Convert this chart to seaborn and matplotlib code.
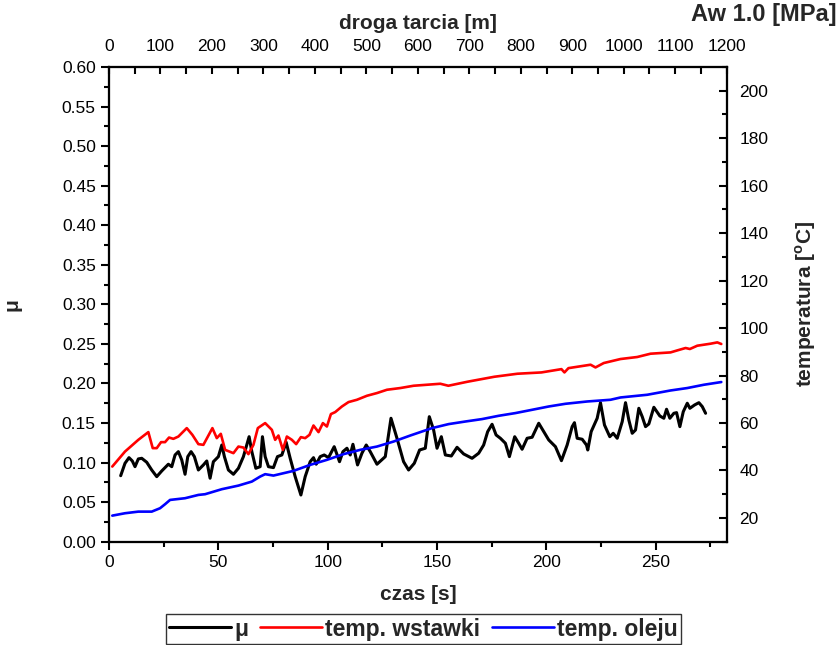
import numpy as np
import pandas as pd
import seaborn as sns
import matplotlib
matplotlib.use("Agg")
import matplotlib.pyplot as plt
from matplotlib.ticker import MultipleLocator

# ---- data ----
mu_t = [5.35, 7.32, 9.15, 10.66, 11.90, 13.41, 14.97, 17.25, 19.54, 21.83, 24.12, 27.14, 28.70, 30.21,
        31.72, 33.27, 34.78, 36.02, 37.53, 39.04, 40.87, 43.16, 44.71, 46.22, 47.73, 50.02, 51.58, 52.77,
        54.60, 56.89, 59.18, 61.46, 64.07, 65.31, 67.14, 69.11, 70.16, 71.40, 72.91, 75.19, 77.03, 79.04,
        81.01, 82.84, 85.13, 87.74, 89.70, 91.99, 93.50, 94.74, 96.57, 98.40, 100.37, 102.97, 105.40,
        106.96, 108.79, 110.30, 111.53, 113.64, 115.65, 117.62, 119.45, 122.52, 126.32, 128.93, 131.67,
        134.69, 136.98, 139.59, 142.01, 144.62, 146.45, 148.42, 149.98, 151.95, 153.78, 156.52, 159.13,
        162.15, 166.00, 169.02, 171.30, 173.14, 175.15, 176.98, 178.95, 181.24, 183.07, 185.49, 187.32,
        188.88, 191.17, 193.46, 196.48, 198.76, 201.05, 204.12, 206.86, 209.47, 211.76, 212.81, 214.05,
        216.34, 218.31, 218.90, 220.46, 223.20, 224.71, 226.54, 228.97, 230.53, 232.36, 234.65, 236.16,
        237.67, 239.22, 240.73, 242.24, 243.80, 245.31, 246.82, 249.11, 251.85, 253.68, 254.92, 256.43,
        258.26, 259.50, 261.01, 262.56, 264.39, 265.58, 267.73, 269.70, 271.26, 272.77]
mu_v = [0.0834, 0.0991, 0.1062, 0.1020, 0.0948, 0.1046, 0.1054, 0.1004, 0.0906, 0.0822, 0.0894, 0.0979,
        0.0948, 0.1096, 0.1138, 0.1033, 0.0852, 0.1075, 0.1138, 0.1075, 0.0906, 0.0970, 0.1020, 0.0802,
        0.1011, 0.1075, 0.1222, 0.1075, 0.0906, 0.0852, 0.0928, 0.1075, 0.1327, 0.1138, 0.0928, 0.0948,
        0.1327, 0.1075, 0.0948, 0.0936, 0.1075, 0.1096, 0.1257, 0.1054, 0.0822, 0.0590, 0.0822, 0.1011,
        0.1062, 0.0979, 0.1075, 0.1096, 0.1062, 0.1201, 0.1011, 0.1138, 0.1181, 0.1096, 0.1231, 0.0970,
        0.1118, 0.1222, 0.1138, 0.0979, 0.1075, 0.1560, 0.1307, 0.1011, 0.0906, 0.0991, 0.1159, 0.1181,
        0.1580, 0.1412, 0.1181, 0.1327, 0.1096, 0.1083, 0.1193, 0.1109, 0.1054, 0.1118, 0.1222, 0.1391,
        0.1484, 0.1349, 0.1307, 0.1244, 0.1075, 0.1327, 0.1244, 0.1168, 0.1307, 0.1320, 0.1497, 0.1391,
        0.1286, 0.1201, 0.1024, 0.1222, 0.1454, 0.1504, 0.1307, 0.1295, 0.1222, 0.1159, 0.1391, 0.1560,
        0.1757, 0.1475, 0.1327, 0.1370, 0.1307, 0.1517, 0.1757, 0.1539, 0.1370, 0.1412, 0.1686, 0.1580,
        0.1454, 0.1488, 0.1699, 0.1589, 0.1560, 0.1674, 0.1560, 0.1623, 0.1631, 0.1454, 0.1643, 0.1750,
        0.1686, 0.1728, 0.1757, 0.1707, 0.1623]

ins_t = [1.51, 7.32, 13.41, 17.99, 20.00, 21.83, 23.80, 25.63, 27.46, 29.43, 31.72, 35.56, 38.12, 40.87,
         43.16, 47.28, 49.29, 51.12, 53.09, 56.89, 59.18, 61.46, 63.75, 66.04, 68.05, 71.40, 74.46, 75.97,
         77.48, 79.50, 81.33, 83.62, 85.58, 87.74, 89.70, 91.67, 93.50, 95.79, 97.80, 99.63, 101.46,
         103.43, 106.50, 109.52, 113.36, 117.94, 122.52, 127.09, 133.18, 139.27, 151.49, 155.15, 163.84,
         176.20, 186.73, 197.71, 206.86, 208.24, 210.07, 220.18, 222.43, 226.22, 233.87, 241.51, 247.60,
         256.75, 259.82, 263.62, 265.58, 268.97, 275.06, 278.12, 279.95]
ins_v = [41.65, 47.97, 52.91, 56.16, 49.41, 49.41, 51.94, 51.94, 53.88, 53.33, 54.30, 57.85, 55.02, 51.10,
         50.80, 57.85, 53.63, 55.44, 48.69, 47.30, 50.08, 49.66, 46.88, 50.80, 57.85, 59.96, 57.13, 52.91,
         54.73, 48.69, 54.30, 52.91, 51.10, 54.05, 53.63, 55.02, 58.95, 56.16, 59.96, 58.52, 63.76, 64.60,
         66.96, 68.82, 69.79, 71.48, 72.62, 74.01, 74.73, 75.70, 76.54, 75.70, 77.38, 79.49, 80.76, 81.31,
         82.70, 81.31, 83.12, 84.56, 83.42, 85.27, 86.96, 87.81, 89.20, 89.75, 90.59, 91.60, 91.18, 92.57,
         93.42, 93.97, 93.29]

oil_t = [1.51, 7.32, 13.41, 19.54, 23.34, 25.63, 27.92, 34.78, 40.87, 43.94, 51.58, 59.18, 65.31, 69.11,
         71.40, 75.19, 84.35, 91.99, 99.63, 107.23, 114.87, 122.52, 130.11, 137.76, 147.69, 155.29,
         162.93, 170.57, 178.17, 185.81, 193.46, 201.05, 208.70, 218.63, 229.29, 233.87, 246.09, 256.75,
         264.39, 271.99, 279.95]
oil_v = [20.97, 21.98, 22.66, 22.66, 24.09, 25.78, 27.59, 28.31, 29.70, 30.00, 32.11, 33.63, 35.32, 37.43,
         38.44, 37.85, 39.83, 42.36, 44.47, 46.88, 48.69, 50.08, 52.19, 54.73, 57.85, 59.54, 60.63, 61.65,
         63.04, 64.18, 65.57, 66.96, 68.10, 69.07, 69.79, 70.76, 71.90, 73.71, 74.73, 76.12, 77.26]

labels = ["\u03bc", "temp. wstawki", "temp. oleju"]
top_ticks = [0, 100, 200, 300, 400, 500, 600, 700, 800, 900, 1000, 1100, 1200]

sns.set_theme(style="ticks")
plt.rcParams["font.family"] = ["Liberation Sans", "DejaVu Sans"]
plt.rcParams["mathtext.fontset"] = "custom"
plt.rcParams["mathtext.rm"] = "Liberation Sans"
plt.rcParams["mathtext.bf"] = "Liberation Sans:bold"

fig = plt.figure(figsize=(8.39, 6.45), dpi=100)
ax = fig.add_axes([0.1299, 0.1602, 0.8661 - 0.1299, 0.8961 - 0.1602])
ax2 = ax.twinx()
ax3 = ax.twiny()

df_mu = pd.DataFrame({"t": mu_t, "v": mu_v})
df_ins = pd.DataFrame({"t": ins_t, "v": ins_v})
df_oil = pd.DataFrame({"t": oil_t, "v": oil_v})

sns.lineplot(data=df_mu, x="t", y="v", ax=ax, color="black", lw=2.2, label=labels[0], legend=False)
sns.lineplot(data=df_ins, x="t", y="v", ax=ax2, color="#ff0000", lw=1.9, label=labels[1], legend=False)
sns.lineplot(data=df_oil, x="t", y="v", ax=ax2, color="#0000ff", lw=1.9, label=labels[2], legend=False)

ax.set_xlim(0, 282.4)
ax.set_ylim(0, 0.6)
ax2.set_ylim(10, 210)
ax3.set_xlim(0, 1200)

for a in (ax, ax2, ax3):
    for s in a.spines.values():
        s.set_linewidth(1.5)
        s.set_color("black")

fs = 12.5
ax.xaxis.set_major_locator(MultipleLocator(50))
ax.xaxis.set_minor_locator(MultipleLocator(25))
ax.yaxis.set_major_locator(MultipleLocator(0.05))
ax.yaxis.set_minor_locator(MultipleLocator(0.025))
ax.yaxis.set_major_formatter(matplotlib.ticker.FormatStrFormatter("%.2f"))
ax.tick_params(axis="both", which="major", direction="out", length=6, width=1.5, labelsize=fs, color="black", labelcolor="black")
ax.tick_params(axis="both", which="minor", direction="out", length=3.5, width=1.5, color="black")

ax2.yaxis.set_minor_locator(MultipleLocator(10))
ax2.set_yticks([20, 40, 60, 80, 100, 120, 140, 160, 180, 200])
ax2.tick_params(axis="y", which="major", direction="in", length=6, width=1.5, labelsize=fs, pad=9, color="black", labelcolor="black")
ax2.tick_params(axis="y", which="minor", direction="in", length=3.5, width=1.5, color="black")

ax3.set_xticks(top_ticks)
ax3.xaxis.set_minor_locator(MultipleLocator(50))
ax3.tick_params(axis="x", which="major", direction="in", length=5, width=1.5, labelsize=fs, pad=9.5, color="black", labelcolor="black")
ax3.tick_params(axis="x", which="minor", direction="in", length=5, width=1.5, color="black")

lab_fs = 15
ax.set_xlabel("czas [s]", fontsize=lab_fs, fontweight="bold", labelpad=11)
ax.set_ylabel("\u03bc", fontsize=lab_fs, fontweight="bold", labelpad=29)
ax2.set_ylabel(r"temperatura [$^{\mathbf{o}}$C]", fontsize=lab_fs, fontweight="bold", labelpad=18)
ax3.set_xlabel("droga tarcia [m]", fontsize=lab_fs, fontweight="bold", labelpad=7)

fig.text(0.997, 0.977, "Aw 1.0 [MPa]", ha="right", va="center", fontsize=17, fontweight="bold")

h1, l1 = ax.get_legend_handles_labels()
h2, l2 = ax2.get_legend_handles_labels()
leg = fig.legend(h1 + h2, l1 + l2, loc="center", bbox_to_anchor=(0.505, 0.0248), ncol=3,
                 frameon=True, fancybox=False, edgecolor="black", handlelength=2.7,
                 handletextpad=0.15, columnspacing=0.5, borderpad=0.15, borderaxespad=0.1,
                 prop={"weight": "bold", "size": 16.5})
leg.get_frame().set_linewidth(1.0)

fig.savefig("out.png", dpi=100, facecolor="white")
